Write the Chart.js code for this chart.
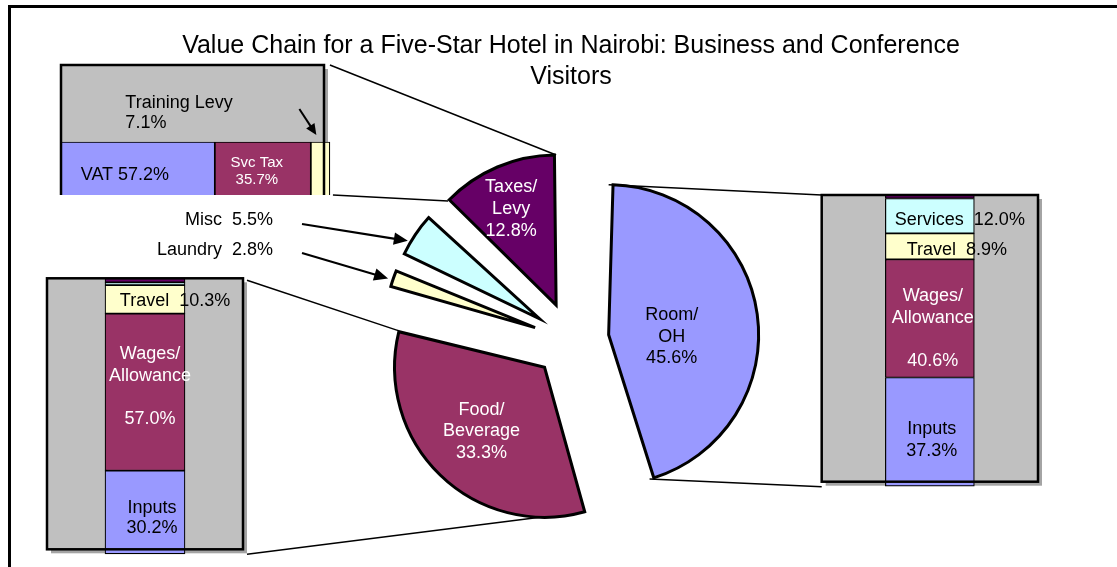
<!DOCTYPE html>
<html lang="en">
<head>
<meta charset="utf-8">
<title>Value Chain for a Five-Star Hotel in Nairobi</title>
<script src="https://cdn.jsdelivr.net/npm/chart.js@4.4.1/dist/chart.umd.min.js"></script>
<style>
  html, body { margin: 0; padding: 0; width: 1117px; height: 567px; overflow: hidden; background: #fff; }
  .layer { position: absolute; }
  #frame { position: absolute; left: 8px; top: 5px; width: 1140px; height: 620px; border: 3px solid #000; }
</style>
</head>
<body>
<div id="frame"></div>
<canvas id="pieChart" class="layer" width="1117" height="600" style="left:0;top:0"></canvas>
<div id="taxClip" class="layer" style="left:50px;top:55px;width:290px;height:140px;overflow:hidden">
  <canvas id="taxChart" width="290" height="260"></canvas>
</div>
<canvas id="foodChart" class="layer" width="220" height="297" style="left:37px;top:270px"></canvas>
<canvas id="roomChart" class="layer" width="245" height="312" style="left:812px;top:185px"></canvas>

<script>
const FONT = "'Liberation Sans', Arial, sans-serif";
Chart.defaults.font.family = FONT;

// --- Répartition principale (camembert) ---
const pieLabels = ['Room/OH', 'Food/Beverage', 'Laundry', 'Misc', 'Taxes/Levy'];
const pieValues = [45.6, 33.3, 2.8, 5.5, 12.8];
const pieColors = ['#9999FF', '#993366', '#FFFFCC', '#CCFFFF', '#660066'];

// --- Détail Room/OH ---
const roomCategories = ['Inputs', 'Wages/Allowance', 'Travel', 'Services', 'Other'];
const roomValues = [37.3, 40.6, 8.9, 12.0, 1.2];

// --- Détail Food/Beverage ---
const foodCategories = ['Inputs', 'Wages/Allowance', 'Travel', 'Services', 'Other'];
const foodValues = [30.2, 57.0, 10.3, 1.0, 1.5];

// --- Détail Taxes/Levy ---
const taxCategories = ['VAT', 'Svc Tax', 'Training Levy'];
const taxValues = [57.2, 35.7, 7.1];

const stackColors = ['#9999FF', '#993366', '#FFFFCC', '#CCFFFF', '#660066'];
const taxColors = ['#9999FF', '#993366', '#FFFFCC'];

const PIE_RADIUS = 150;
const PIE_EXPLODE = 152;   // Chart.js divise l'offset par 4 -> ~38px

const fmt = v => v.toFixed(1) + '%';

function drawArrow(ctx, x1, y1, x2, y2, head) {
    const a = Math.atan2(y2 - y1, x2 - x1);
    const w = head * 0.45;
    ctx.beginPath();
    ctx.moveTo(x1, y1);
    ctx.lineTo(x2 - Math.cos(a) * head * 0.8, y2 - Math.sin(a) * head * 0.8);
    ctx.stroke();
    ctx.beginPath();
    ctx.moveTo(x2, y2);
    ctx.lineTo(x2 - head * Math.cos(a) + w * Math.sin(a), y2 - head * Math.sin(a) - w * Math.cos(a));
    ctx.lineTo(x2 - head * Math.cos(a) - w * Math.sin(a), y2 - head * Math.sin(a) + w * Math.cos(a));
    ctx.closePath();
    ctx.fill();
}

function drawLines(ctx, lines, x, y, lineHeight) {
    const y0 = y - (lines.length - 1) * lineHeight / 2;
    lines.forEach((l, k) => ctx.fillText(l, x, y0 + k * lineHeight));
}

// Zone de tracé grise façon Excel (ombre + bordure)
const plotAreaPlugin = {
    id: 'plotArea',
    beforeDatasetsDraw(chart) {
        const { ctx, chartArea: a } = chart;
        ctx.save();
        ctx.fillStyle = '#a4a4a4';
        ctx.fillRect(a.left + 4, a.top + 4, a.width, a.height);
        ctx.fillStyle = '#C0C0C0';
        ctx.fillRect(a.left, a.top, a.width, a.height);
        ctx.restore();
    },
    afterDatasetsDraw(chart) {
        const { ctx, chartArea: a } = chart;
        ctx.save();
        ctx.strokeStyle = '#000';
        ctx.lineWidth = 2.5;
        ctx.strokeRect(a.left, a.top, a.width, a.height);
        ctx.restore();
    }
};

// Etiquettes des segments empilés
const barTextPlugin = {
    id: 'barTexts',
    afterDatasetsDraw(chart, args, opts) {
        const { ctx } = chart;
        const horizontal = chart.options.indexAxis === 'y';
        (opts.items || []).forEach(item => {
            const el = chart.getDatasetMeta(item.dataset).data[0];
            const value = chart.data.datasets[item.dataset].data[0];
            const cx = horizontal ? (el.x + el.base) / 2 : el.x;
            const cy = item.fromTop
                ? (horizontal ? el.y - el.height / 2 : Math.min(el.y, el.base))
                : (horizontal ? el.y : (el.y + el.base) / 2);
            ctx.save();
            ctx.font = `${item.size || 18}px ${FONT}`;
            ctx.fillStyle = item.color;
            ctx.textAlign = item.align || 'center';
            ctx.textBaseline = 'middle';
            drawLines(ctx, item.lines(value), cx + item.dx, cy + item.dy, item.lineHeight || 21.6);
            if (item.arrow) {
                ctx.strokeStyle = '#000';
                ctx.fillStyle = '#000';
                ctx.lineWidth = 2;
                drawArrow(ctx, cx + item.arrow[0], cy + item.arrow[1], cx + item.arrow[2], cy + item.arrow[3], 11);
            }
            ctx.restore();
        });
    }
};

function createStackChart(id, categories, values, colors, cfg) {
    const horizontal = !!cfg.horizontal;
    const valueScale = { stacked: true, display: false, min: cfg.min, max: cfg.max };
    const catScale = { stacked: true, display: false };
    return new Chart(document.getElementById(id), {
        type: 'bar',
        data: {
            labels: [''],
            datasets: categories.map((c, i) => ({
                label: c,
                data: [values[i]],
                backgroundColor: colors[i],
                borderColor: '#000',
                borderWidth: 1.2,
                borderSkipped: false,
                barThickness: cfg.thickness,
                clip: false
            }))
        },
        options: {
            responsive: false,
            animation: false,
            events: [],
            indexAxis: horizontal ? 'y' : 'x',
            layout: { padding: cfg.padding },
            scales: horizontal ? { x: valueScale, y: catScale } : { x: catScale, y: valueScale },
            plugins: {
                legend: { display: false },
                tooltip: { enabled: false },
                barTexts: { items: cfg.texts }
            }
        },
        plugins: [plotAreaPlugin, barTextPlugin]
    });
}

const taxChart = createStackChart('taxChart', taxCategories, taxValues, taxColors, {
    horizontal: true, min: 0, max: 97.8, thickness: 80,
    padding: { left: 11, top: 10, right: 16, bottom: 16 },
    texts: [
        { dataset: 0, lines: v => ['VAT ' + fmt(v)], dx: -13, dy: -7, color: '#000' },
        { dataset: 1, lines: v => ['Svc Tax', fmt(v)], dx: -6, dy: -10.5, color: '#fff', size: 15, lineHeight: 17 },
        { dataset: 2, fromTop: true, lines: v => ['Training Levy', fmt(v)], dx: -195, dy: -29, color: '#000',
          align: 'left', lineHeight: 20, arrow: [-21, -33, -4, -7] }
    ]
});

const foodChart = createStackChart('foodChart', foodCategories, foodValues, stackColors, {
    min: 1.7, max: 100, thickness: 80,
    padding: { left: 10, top: 8.3, right: 14, bottom: 17.7 },
    texts: [
        { dataset: 0, lines: v => ['Inputs', fmt(v)], dx: 7, dy: 6, color: '#000', lineHeight: 20 },
        { dataset: 1, lines: v => ['Wages/', 'Allowance', '', fmt(v)], dx: 5, dy: -5.5, color: '#fff' },
        { dataset: 2, lines: v => ['Travel  ' + fmt(v)], dx: 30, dy: 2, color: '#000' }
    ]
});

const roomChart = createStackChart('roomChart', roomCategories, roomValues, stackColors, {
    min: 1.5, max: 100, thickness: 89,
    padding: { left: 9.7, top: 10, right: 19, bottom: 15.3 },
    texts: [
        { dataset: 0, lines: v => ['Inputs', fmt(v)], dx: 2, dy: 8, color: '#000' },
        { dataset: 1, lines: v => ['Wages/', 'Allowance', '', fmt(v)], dx: 3, dy: 10, color: '#fff' },
        { dataset: 2, lines: v => ['Travel  ' + fmt(v)], dx: 27, dy: 4, color: '#000' },
        { dataset: 3, lines: v => ['Services  ' + fmt(v)], dx: 30, dy: 4, color: '#000' }
    ]
});

// Etiquettes dans les parts (décalage depuis la pointe de la part)
const sliceLabels = [
    { index: 0, lines: v => ['Room/', 'OH', fmt(v)], dx: 63, dy: 2, color: '#000' },
    { index: 1, lines: v => ['Food/', 'Beverage', fmt(v)], dx: -63, dy: 64, color: '#fff' },
    { index: 4, lines: v => ['Taxes/', 'Levy', fmt(v)], dx: -45, dy: -96, color: '#fff' }
];
// Etiquettes extérieures avec flèche
const sliceCallouts = [
    { index: 3, text: v => 'Misc  ' + fmt(v), textX: 273, textY: 220, tailX: 302, tailY: 224, tipShift: -3.4, tipR: 153 },
    { index: 2, text: v => 'Laundry  ' + fmt(v), textX: 273, textY: 250, tailX: 302, tailY: 253, tipShift: -0.6, tipR: 155 }
];

function sliceGeom(arc) {
    const half = (arc.startAngle + arc.endAngle) / 2;
    const shift = (arc.options.offset || 0) / 4;
    return {
        cx: arc.x + Math.cos(half) * shift,
        cy: arc.y + Math.sin(half) * shift,
        half, start: arc.startAngle, end: arc.endAngle
    };
}
const vertex = (g, angle, r = PIE_RADIUS) => [g.cx + Math.cos(angle) * r, g.cy + Math.sin(angle) * r];

function areaOnPage(chart, pieCanvas) {
    const r = chart.canvas.getBoundingClientRect();
    const p = pieCanvas.getBoundingClientRect();
    const a = chart.chartArea;
    return { left: a.left + r.left - p.left, right: a.right + r.left - p.left,
             top: a.top + r.top - p.top, bottom: a.bottom + r.top - p.top, ox: r.left - p.left, oy: r.top - p.top };
}

// Rayon identique pour toutes les parts malgré l'explosion
const pieRadiusFix = {
    id: 'pieRadiusFix',
    afterDatasetUpdate(chart, args) {
        args.meta.data.forEach(arc => {
            const circ = arc.endAngle - arc.startAngle;
            const fix = 1 - Math.sin(Math.min(Math.PI, circ));
            arc.outerRadius = PIE_RADIUS - ((arc.options.offset || 0) / 4) * fix;
        });
    }
};

// Lignes de liaison vers les barres de détail
const pieConnectors = {
    id: 'pieConnectors',
    beforeDatasetsDraw(chart) {
        const { ctx } = chart;
        const arcs = chart.getDatasetMeta(0).data;
        const room = sliceGeom(arcs[0]), food = sliceGeom(arcs[1]), tax = sliceGeom(arcs[4]);
        const ra = areaOnPage(roomChart, chart.canvas);
        const fa = areaOnPage(foodChart, chart.canvas);
        const ta = areaOnPage(taxChart, chart.canvas);
        const taxEnd = taxChart.getDatasetMeta(2).data[0].x + ta.ox;
        const clip = document.getElementById('taxClip').getBoundingClientRect();
        const clipBottom = clip.bottom - chart.canvas.getBoundingClientRect().top;
        const segs = [
            [[taxEnd, ta.top], vertex(tax, tax.end)],
            [[taxEnd + 3, clipBottom], vertex(tax, tax.start)],
            [[fa.right + 4, fa.top + 2], vertex(food, food.end)],
            [[fa.right + 4, fa.bottom + 5], vertex(food, food.start)],
            [[ra.left, ra.top], vertex(room, room.start)],
            [[ra.left, ra.bottom + 5], vertex(room, room.end)]
        ];
        ctx.save();
        ctx.strokeStyle = '#000';
        ctx.lineWidth = 1.5;
        segs.forEach(([p, q]) => {
            ctx.beginPath();
            ctx.moveTo(p[0], p[1]);
            ctx.lineTo(q[0], q[1]);
            ctx.stroke();
        });
        ctx.restore();
    }
};

const pieTexts = {
    id: 'pieTexts',
    afterDatasetsDraw(chart) {
        const { ctx } = chart;
        const arcs = chart.getDatasetMeta(0).data;
        const values = chart.data.datasets[0].data;
        ctx.save();
        ctx.font = `18px ${FONT}`;
        ctx.textBaseline = 'middle';
        sliceLabels.forEach(s => {
            const g = sliceGeom(arcs[s.index]);
            ctx.fillStyle = s.color;
            ctx.textAlign = 'center';
            drawLines(ctx, s.lines(values[s.index]), g.cx + s.dx, g.cy + s.dy, 21.6);
        });
        sliceCallouts.forEach(c => {
            const g = sliceGeom(arcs[c.index]);
            ctx.fillStyle = '#000';
            ctx.textAlign = 'right';
            ctx.fillText(c.text(values[c.index]), c.textX, c.textY);
            const [tx, ty] = vertex(g, g.half + c.tipShift * Math.PI / 180, c.tipR);
            ctx.strokeStyle = '#000';
            ctx.lineWidth = 2.2;
            drawArrow(ctx, c.tailX, c.tailY, tx, ty, 14);
        });
        ctx.restore();
    }
};

const pieChart = new Chart(document.getElementById('pieChart'), {
    type: 'pie',
    data: {
        labels: pieLabels,
        datasets: [{
            data: pieValues,
            backgroundColor: pieColors,
            borderColor: '#000',
            borderWidth: 3,
            borderJoinStyle: 'miter',
            offset: PIE_EXPLODE,
            clip: false
        }]
    },
    options: {
        responsive: false,
        animation: false,
        events: [],
        radius: PIE_RADIUS,
        layout: { padding: { left: 25, right: 0, top: 0, bottom: 13 } },
        plugins: {
            legend: { display: false },
            tooltip: { enabled: false },
            title: {
                display: true,
                text: ['Value Chain for a Five-Star Hotel in Nairobi: Business and Conference', 'Visitors'],
                color: '#000',
                font: { family: FONT, size: 25, weight: 'normal', lineHeight: 1.24 },
                padding: { top: 31, bottom: 0 }
            }
        }
    },
    plugins: [pieRadiusFix, pieConnectors, pieTexts]
});
</script>
</body>
</html>
